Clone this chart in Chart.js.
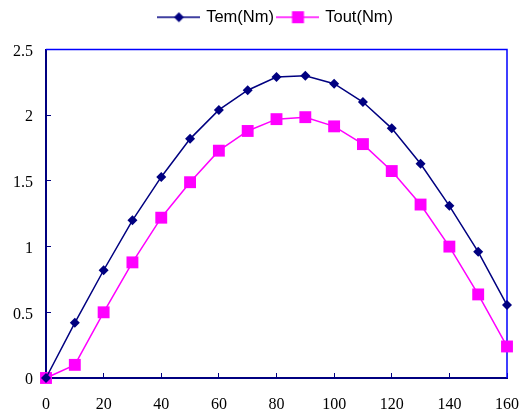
<!DOCTYPE html>
<html><head><meta charset="utf-8">
<script src="https://cdn.jsdelivr.net/npm/chart.js@4"></script>
<style>html,body{margin:0;padding:0;background:#fff;}</style>
</head><body>
<canvas id="c" width="519" height="414"></canvas>
<script>
const angles = [0, 10, 20, 30, 40, 50, 60, 70, 80, 90, 100, 110, 120, 130, 140, 150, 160];
const temValues = [0, 0.42, 0.82, 1.20, 1.53, 1.82, 2.04, 2.19, 2.29, 2.30, 2.24, 2.10, 1.90, 1.63, 1.31, 0.96, 0.555];
const toutValues = [0, 0.10, 0.50, 0.88, 1.22, 1.49, 1.73, 1.88, 1.97, 1.985, 1.915, 1.78, 1.575, 1.32, 1.00, 0.636, 0.24];
const seriesNames = ['Tem(Nm)', 'Tout(Nm)'];
const xRange = [0, 160];
const yRange = [0, 2.5];

function makeIcon(color, shape) {
  const cv = document.createElement('canvas');
  cv.width = 43; cv.height = 14;
  const g = cv.getContext('2d');
  g.strokeStyle = color; g.lineWidth = 1.5;
  g.beginPath(); g.moveTo(0, 7); g.lineTo(43, 7); g.stroke();
  g.fillStyle = color;
  g.beginPath();
  if (shape === 'diamond') {
    g.moveTo(21.5, 2); g.lineTo(26.5, 7); g.lineTo(21.5, 12); g.lineTo(16.5, 7); g.closePath();
  } else {
    g.rect(15.5, 1, 12, 12);
  }
  g.fill();
  return cv;
}
const icons = [makeIcon('#000080', 'diamond'), makeIcon('#FF00FF', 'square')];

const framePlugin = {
  id: 'frame',
  beforeLayout(chart) {
    const lg = chart.legend;
    if (lg && !lg._patched) {
      const f = lg.fit;
      lg.fit = function () { f.call(this); this.height = 45.5; };
      lg._patched = true;
    }
  },
  beforeDatasetsDraw(chart) {
    const { ctx, chartArea: a } = chart;
    ctx.save();
    ctx.strokeStyle = '#0000FF';
    ctx.lineWidth = 1.5;
    ctx.beginPath();
    ctx.moveTo(a.left, a.top);
    ctx.lineTo(a.right, a.top);
    ctx.lineTo(a.right, a.bottom);
    ctx.stroke();
    ctx.restore();
  }
};

const tickFont = { family: '"Liberation Serif", "Times New Roman", serif', size: 16 };
const X_PAD = 22;

new Chart(document.getElementById('c'), {
  type: 'line',
  data: {
    datasets: [
      {
        label: seriesNames[0],
        data: angles.map((a, i) => ({ x: a, y: temValues[i] })),
        borderColor: '#000080', backgroundColor: '#000080',
        borderWidth: 1.5, pointStyle: 'rectRot', pointRadius: 5, pointBorderWidth: 0,
        pointBackgroundColor: '#000080', tension: 0, clip: false
      },
      {
        label: seriesNames[1],
        data: angles.map((a, i) => ({ x: a, y: toutValues[i] })),
        borderColor: '#FF00FF', backgroundColor: '#FF00FF',
        borderWidth: 1.5, pointStyle: 'rect', pointRadius: 8.4, pointBorderWidth: 0,
        pointBackgroundColor: '#FF00FF', tension: 0, clip: false
      }
    ]
  },
  options: {
    responsive: false,
    animation: false,
    devicePixelRatio: 1,
    layout: { padding: { top: 4, left: 0, right: 0, bottom: 0 } },
    plugins: {
      tooltip: { enabled: false },
      legend: {
        position: 'top',
        fullSize: false,
        labels: {
          usePointStyle: true,
          pointStyleWidth: 38,
          padding: 5,
          color: '#000',
          font: { family: '"Liberation Sans", Arial, sans-serif', size: 16.5 },
          generateLabels(chart) {
            return chart.data.datasets.map((ds, i) => ({
              text: ds.label, pointStyle: icons[i], fillStyle: ds.borderColor,
              strokeStyle: ds.borderColor, lineWidth: 0, hidden: false, datasetIndex: i, fontColor: '#000'
            }));
          }
        }
      }
    },
    scales: {
      x: {
        type: 'linear', min: xRange[0], max: xRange[1],
        ticks: { stepSize: 20, padding: X_PAD, font: tickFont, color: '#000', maxRotation: 0 },
        grid: { drawOnChartArea: false, drawTicks: true, tickLength: -5, color: '#000080', lineWidth: 1 },
        border: { color: '#000080', width: 2 },
        afterFit(s) {
          s.height = 36;
          s.paddingRight = Math.max(0, s.paddingRight - X_PAD);
          s.paddingLeft = Math.max(0, s.paddingLeft - X_PAD);
        }
      },
      y: {
        min: yRange[0], max: yRange[1],
        ticks: { stepSize: 0.5, padding: 18, labelOffset: 2, font: tickFont, color: '#000',
                 callback: (v) => String(Number(v)) },
        grid: { drawOnChartArea: false, drawTicks: true, tickLength: -5, color: '#000080', lineWidth: 1 },
        border: { color: '#000080', width: 2 },
        afterFit(s) { s.width = 46; }
      }
    }
  },
  plugins: [framePlugin]
});
</script>
</body></html>
